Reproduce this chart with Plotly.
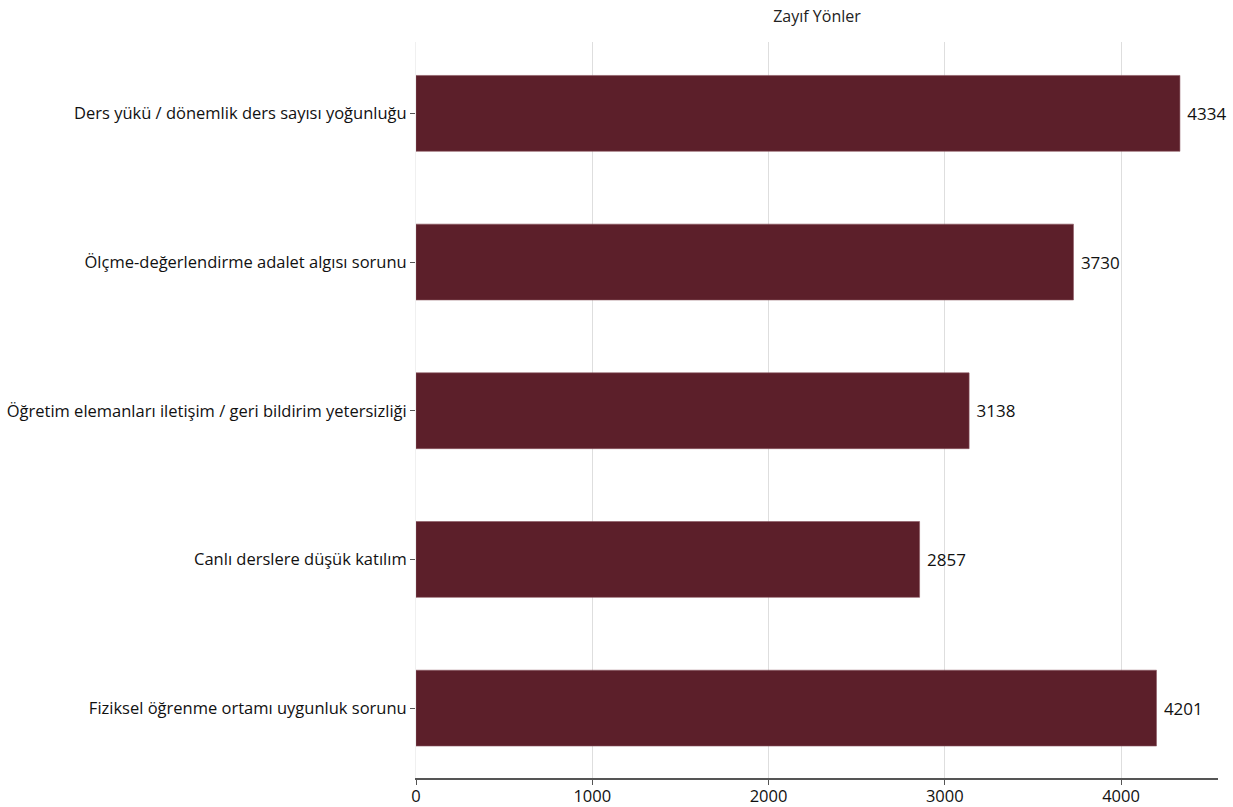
import plotly.graph_objects as go

categories = [
    "Fiziksel öğrenme ortamı uygunluk sorunu",
    "Canlı derslere düşük katılım",
    "Öğretim elemanları iletişim / geri bildirim yetersizliği",
    "Ölçme-değerlendirme adalet algısı sorunu",
    "Ders yükü / dönemlik ders sayısı yoğunluğu",
]
values = [4201, 2857, 3138, 3730, 4334]
x_ticks = [0, 1000, 2000, 3000, 4000]
title_text = "Zayıf Yönler"

fig = go.Figure(go.Bar(
    x=values, y=categories, orientation="h",
    marker=dict(color="#5c1f2a", line=dict(color="#8a5560", width=0.6)),
    text=[" " + str(v) for v in values], textposition="outside",
    textfont=dict(size=17, color="#111111"), cliponaxis=False,
    width=0.51,
))

fig.update_layout(
    width=1233, height=807,
    margin=dict(l=416, r=15, t=42, b=29, autoexpand=False),
    paper_bgcolor="white", plot_bgcolor="white",
    font=dict(family="'Open Sans', Lato, sans-serif", size=16, color="#222222"),
    title=dict(text=title_text, x=0.5, xref="paper", y=1 - 16 / 807, yref="container",
               xanchor="center", yanchor="middle", font=dict(size=16, color="#222222")),
    showlegend=False,
)
fig.update_xaxes(
    range=[0, 4550], tickvals=x_ticks, ticktext=[str(t) for t in x_ticks],
    showgrid=True, gridcolor="rgba(200,200,200,0.6)", gridwidth=1,
    showline=True, linecolor="#555555", linewidth=1.5,
    ticks="outside", ticklen=5, tickcolor="#555555",
    zeroline=False, layer="above traces", tickfont=dict(size=16.5, color="#111111"),
    automargin=False, ticklabelstandoff=-3,
)
fig.update_yaxes(
    range=[-0.47, 4.48], showgrid=False, zeroline=False,
    showline=True, linecolor="#f0f0f0", linewidth=1,
    ticks="outside", ticklen=5, tickcolor="#555555",
    tickfont=dict(size=16.5, color="#111111"), automargin=False,
)

fig.write_html("out.html", config={"displayModeBar": False},
               post_script="document.body.style.margin='0';")
